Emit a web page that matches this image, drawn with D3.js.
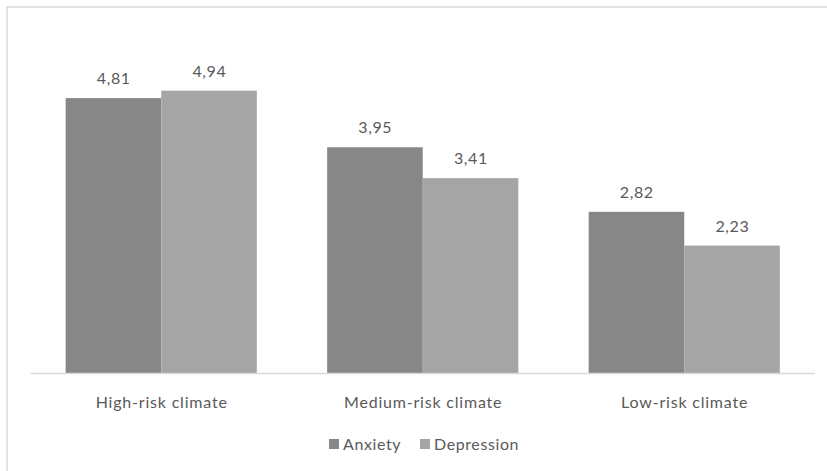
<!DOCTYPE html>
<html>
<head>
<meta charset="utf-8">
<script src="https://cdn.jsdelivr.net/npm/d3@7"></script>
<style>
  html, body { margin: 0; padding: 0; background: #fff; }
  svg { display: block; }
  text { font-family: Lato, "Open Sans", sans-serif; fill: #595959; }
</style>
</head>
<body>
<script>
const categories = ["High-risk climate", "Medium-risk climate", "Low-risk climate"];
const seriesNames = ["Anxiety", "Depression"];
const anxiety = [4.81, 3.95, 2.82];
const depression = [4.94, 3.41, 2.23];
const colors = ["#878787", "#a5a5a5"];

const W = 827, H = 471;
const svg = d3.select("body").append("svg").attr("width", W).attr("height", H);

// chart area border (only top and left visible in frame)
svg.append("rect")
  .attr("x", 7).attr("y", 7).attr("width", W + 20).attr("height", H + 20)
  .attr("fill", "none").attr("stroke", "#d9d9d9").attr("stroke-width", 1.5);

const left = 30.5, right = 815, baseline = 373;
const fmt = v => d3.format(".2f")(v).replace(".", ",");

const x0 = d3.scaleBand().domain(categories).range([left, right])
  .paddingInner(0.269).paddingOuter(0.1345);
const x1 = d3.scaleBand().domain(seriesNames).range([0, x0.bandwidth()]);
const y = d3.scaleLinear().domain([0, 6]).range([baseline, baseline - 6 * 57.15]);

const data = categories.map((c, i) => ({ cat: c, vals: [anxiety[i], depression[i]] }));

const g = svg.append("g");
const groups = g.selectAll("g.grp").data(data).join("g")
  .attr("transform", d => `translate(${x0(d.cat)},0)`);

groups.selectAll("rect").data(d => d.vals.map((v, j) => ({ s: seriesNames[j], v, j })))
  .join("rect")
  .attr("x", d => x1(d.s))
  .attr("width", x1.bandwidth())
  .attr("y", d => y(d.v))
  .attr("height", d => baseline - y(d.v))
  .attr("fill", d => colors[d.j]);

groups.selectAll("text.val").data(d => d.vals.map((v, j) => ({ s: seriesNames[j], v, j })))
  .join("text")
  .attr("class", "val")
  .attr("x", d => x1(d.s) + x1.bandwidth() / 2 + 0.3)
  .attr("y", d => y(d.v) - 14)
  .attr("text-anchor", "middle")
  .attr("font-size", 16)
  .attr("letter-spacing", 0.6)
  .text(d => fmt(d.v));

// x axis
const xAxis = d3.axisBottom(x0).tickSize(0).tickPadding(0);
const ax = svg.append("g").attr("transform", `translate(0,${baseline})`).call(xAxis);
ax.select(".domain").attr("stroke", "#d9d9d9").attr("stroke-width", 1.5)
  .attr("d", `M${left},0.5H${right}`);
ax.selectAll(".tick text")
  .attr("y", 35).attr("dy", 0)
  .attr("x", 0.4)
  .attr("font-size", 16)
  .attr("letter-spacing", 0.8)
  .style("font-family", "Lato, 'Open Sans', sans-serif")
  .attr("fill", "#595959");

// legend
const legendItems = [{ name: "Anxiety", x: 329 }, { name: "Depression", x: 420 }];
const lg = svg.append("g");
legendItems.forEach((it, i) => {
  lg.append("rect").attr("x", it.x).attr("y", 439).attr("width", 10).attr("height", 10)
    .attr("fill", colors[i]);
  lg.append("text").attr("x", it.x + 14).attr("y", 449.5).attr("font-size", 16)
    .attr("letter-spacing", 0.6).text(it.name);
});
</script>
</body>
</html>
